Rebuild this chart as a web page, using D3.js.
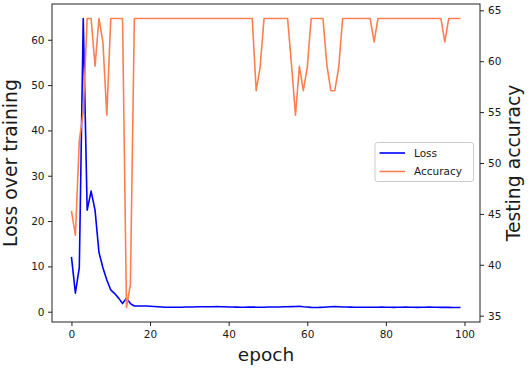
<!DOCTYPE html>
<html>
<head>
<meta charset="utf-8">
<script src="https://cdn.jsdelivr.net/npm/d3@7"></script>
<style>
  html, body { margin: 0; padding: 0; background: #fff; }
  svg { display: block; font-family: "DejaVu Sans", sans-serif; }
</style>
</head>
<body>
<svg id="chart" width="529" height="369"></svg>
<script>
const epochs = d3.range(0, 100);
const lossValues = [
  12.1, 4.1, 9.8, 64.7, 22.4, 26.6, 22.4, 13.1, 9.7, 7.0,
  4.8, 4.0, 3.0, 1.8, 3.0, 1.8, 1.25, 1.25, 1.25, 1.25,
  1.2, 1.15, 1.1, 1.05, 1.0, 1.0, 0.98, 0.97, 1.0, 1.05,
  1.05, 1.05, 1.08, 1.1, 1.1, 1.08, 1.1, 1.12, 1.1, 1.08,
  1.05, 1.05, 1.02, 1.0, 1.0, 1.02, 1.05, 1.0, 0.98, 1.0,
  1.03, 1.05, 1.05, 1.05, 1.08, 1.1, 1.12, 1.15, 1.2, 1.1,
  1.05, 0.95, 0.93, 0.95, 1.0, 1.05, 1.1, 1.12, 1.1, 1.05,
  1.05, 1.02, 1.0, 1.0, 0.98, 0.97, 0.97, 0.98, 1.0, 1.02,
  1.0, 0.97, 0.96, 0.97, 1.0, 1.02, 1.0, 0.97, 0.96, 0.97,
  1.0, 1.02, 1.0, 0.97, 0.96, 0.95, 0.95, 0.94, 0.93, 0.92
];
const accuracyValues = [
  45.3, 42.9, 52.2, 55.0, 64.2, 64.2, 59.5, 64.2, 61.9, 54.7,
  64.2, 64.2, 64.2, 64.2, 35.8, 38.1, 64.2, 64.2, 64.2, 64.2,
  64.2, 64.2, 64.2, 64.2, 64.2, 64.2, 64.2, 64.2, 64.2, 64.2,
  64.2, 64.2, 64.2, 64.2, 64.2, 64.2, 64.2, 64.2, 64.2, 64.2,
  64.2, 64.2, 64.2, 64.2, 64.2, 64.2, 64.2, 57.1, 59.4, 64.2,
  64.2, 64.2, 64.2, 64.2, 64.2, 64.2, 59.6, 54.7, 59.5, 57.1,
  59.4, 64.2, 64.2, 64.2, 64.2, 59.6, 57.1, 57.1, 59.4, 64.2,
  64.2, 64.2, 64.2, 64.2, 64.2, 64.2, 64.2, 61.9, 64.2, 64.2,
  64.2, 64.2, 64.2, 64.2, 64.2, 64.2, 64.2, 64.2, 64.2, 64.2,
  64.2, 64.2, 64.2, 64.2, 64.2, 61.9, 64.2, 64.2, 64.2, 64.2
];
const xTicks = [0, 20, 40, 60, 80, 100];
const lossTicks = [0, 10, 20, 30, 40, 50, 60];
const accTicks = [35, 40, 45, 50, 55, 60, 65];
const seriesNames = ["Loss", "Accuracy"];
const seriesColors = ["#0000ff", "#ff7f50"];
const xLabel = "epoch";
const leftLabel = "Loss over training";
const rightLabel = "Testing accuracy";

const W = 529, H = 369;
const margin = { left: 52, right: 49, top: 4, bottom: 47 };
const pw = W - margin.left - margin.right;
const ph = H - margin.top - margin.bottom;

function padded(ext) {
  const d = (ext[1] - ext[0]) * 0.05;
  return [ext[0] - d, ext[1] + d];
}

const x = d3.scaleLinear().domain(padded(d3.extent(epochs))).range([0, pw]);
const yL = d3.scaleLinear().domain(padded(d3.extent(lossValues))).range([ph, 0]);
const yR = d3.scaleLinear().domain(padded(d3.extent(accuracyValues))).range([ph, 0]);

const svg = d3.select("#chart");
svg.append("rect").attr("width", W).attr("height", H).attr("fill", "#fff");
const g = svg.append("g").attr("transform", `translate(${margin.left},${margin.top})`);

const fs = 10.5;
const textColor = "#1a1a1a";

// axes
const xAxis = g.append("g").attr("transform", `translate(0,${ph})`)
  .call(d3.axisBottom(x).tickValues(xTicks).tickSize(4).tickPadding(5).tickFormat(d3.format("d")));
const lAxis = g.append("g")
  .call(d3.axisLeft(yL).tickValues(lossTicks).tickSize(4).tickPadding(3.5).tickFormat(d3.format("d")));
const rAxis = g.append("g").attr("transform", `translate(${pw},0)`)
  .call(d3.axisRight(yR).tickValues(accTicks).tickSize(4).tickPadding(4).tickFormat(d3.format("d")));
[xAxis, lAxis, rAxis].forEach(a => {
  a.select(".domain").remove();
  a.selectAll(".tick line").attr("stroke", "#222").attr("stroke-width", 1);
  a.selectAll(".tick text").attr("font-size", fs).attr("fill", textColor)
    .attr("font-family", "DejaVu Sans, sans-serif");
});

// lines
const lossLine = d3.line().x((d, i) => x(epochs[i])).y(d => yL(d));
const accLine = d3.line().x((d, i) => x(epochs[i])).y(d => yR(d));

const clip = g.append("clipPath").attr("id", "clip").append("rect").attr("width", pw).attr("height", ph);
const plot = g.append("g").attr("clip-path", "url(#clip)");
plot.append("path").datum(lossValues).attr("d", lossLine)
  .attr("fill", "none").attr("stroke", seriesColors[0]).attr("stroke-width", 1.6).attr("stroke-linejoin", "round");
plot.append("path").datum(accuracyValues).attr("d", accLine)
  .attr("fill", "none").attr("stroke", seriesColors[1]).attr("stroke-width", 1.6).attr("stroke-linejoin", "round");

// frame
g.append("rect").attr("width", pw).attr("height", ph)
  .attr("fill", "none").attr("stroke", "#222").attr("stroke-width", 1);

// axis labels
g.append("text").attr("x", pw / 2).attr("y", ph + 38.5).attr("text-anchor", "middle")
  .attr("font-size", 18.5).attr("fill", textColor).text(xLabel);
svg.append("text").attr("transform", `translate(17,${margin.top + ph / 2}) rotate(-90)`)
  .attr("text-anchor", "middle").attr("font-size", 18.8).attr("fill", textColor).text(leftLabel);
svg.append("text").attr("transform", `translate(519.5,${margin.top + ph / 2}) rotate(-90)`)
  .attr("text-anchor", "middle").attr("font-size", 18.8).attr("fill", textColor).text(rightLabel);

// legend
const lg = svg.append("g").attr("transform", "translate(375,142.5)");
lg.append("rect").attr("width", 98.5).attr("height", 39).attr("rx", 2.5)
  .attr("fill", "#fff").attr("fill-opacity", 0.8).attr("stroke", "#cccccc").attr("stroke-width", 1);
seriesNames.forEach((name, i) => {
  const yy = 10.5 + i * 18.5;
  lg.append("line").attr("x1", 4.5).attr("x2", 30).attr("y1", yy).attr("y2", yy)
    .attr("stroke", seriesColors[i]).attr("stroke-width", 1.6);
  lg.append("text").attr("x", 39).attr("y", yy).attr("dy", "0.36em")
    .attr("font-size", fs).attr("fill", textColor).text(name);
});
</script>
</body>
</html>
